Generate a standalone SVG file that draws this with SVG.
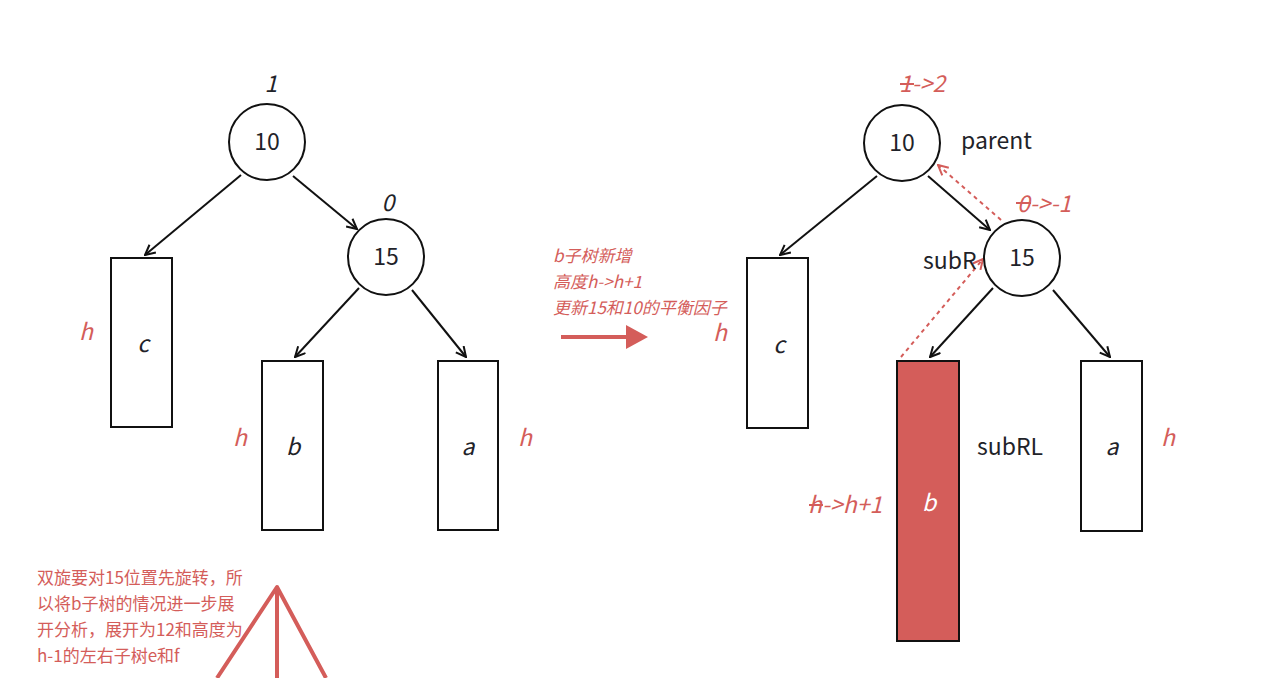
<svg xmlns="http://www.w3.org/2000/svg" width="1270" height="678" viewBox="0 0 1270 678">
<defs>
<style>
.n{fill:#fff;stroke:#111;stroke-width:2}
.e{fill:none;stroke:#111;stroke-width:2}
.d{fill:none;stroke:#d45d5a;stroke-width:2;stroke-dasharray:4 4}
.t{font-family:"Noto Sans CJK SC","Noto Sans",sans-serif;font-size:23px;fill:#1f2329}
.i{font-style:italic}
.r{fill:#d45d5a}
.s{font-family:"Noto Sans CJK SC","Noto Sans",sans-serif;font-size:17px;fill:#d45d5a}
.st{stroke:#d45d5a;stroke-width:2}
</style>
<marker id="ah" viewBox="0 0 12 12" refX="11" refY="6" markerWidth="12" markerHeight="12" markerUnits="userSpaceOnUse" orient="auto">
<path d="M1,1 L11,6 L1,11" fill="none" stroke="#111" stroke-width="2"/>
</marker>
<marker id="ahr" viewBox="0 0 12 12" refX="11" refY="6" markerWidth="12" markerHeight="12" markerUnits="userSpaceOnUse" orient="auto">
<path d="M1,1 L11,6 L1,11" fill="none" stroke="#d45d5a" stroke-width="2"/>
</marker>
</defs>
<rect width="1270" height="678" fill="#fff"/>
<g id="connectors">
<line class="e" x1="241" y1="175" x2="145" y2="255" marker-end="url(#ah)"/>
<line class="e" x1="293" y1="176" x2="357" y2="229" marker-end="url(#ah)"/>
<line class="e" x1="359" y1="288" x2="295" y2="357" marker-end="url(#ah)"/>
<line class="e" x1="412" y1="290" x2="466" y2="357" marker-end="url(#ah)"/>
<line class="e" x1="877" y1="176" x2="780" y2="255" marker-end="url(#ah)"/>
<line class="e" x1="928" y1="176" x2="990" y2="230" marker-end="url(#ah)"/>
<line class="e" x1="993" y1="288" x2="930" y2="357" marker-end="url(#ah)"/>
<line class="e" x1="1053" y1="290" x2="1110" y2="357" marker-end="url(#ah)"/>
<line class="d" x1="1001" y1="220" x2="938" y2="165" marker-end="url(#ahr)"/>
<line class="d" x1="901" y1="357" x2="983" y2="259" marker-end="url(#ahr)"/>
</g>
<g id="L10"><circle class="n" cx="267" cy="142" r="38"/><text class="t" x="267" y="150" text-anchor="middle">10</text><text class="t i" x="271" y="92" text-anchor="middle">1</text></g>
<g id="L15"><circle class="n" cx="386" cy="257" r="38"/><text class="t" x="386" y="265" text-anchor="middle">15</text><text class="t i" x="388" y="211" text-anchor="middle">0</text></g>
<g id="Lc"><rect class="n" x="111" y="258" width="61" height="169"/><text class="t i" x="143" y="352" text-anchor="middle">c</text><text class="t i r" x="86" y="340" text-anchor="middle">h</text></g>
<g id="Lb"><rect class="n" x="262" y="361" width="61" height="169"/><text class="t i" x="293" y="455" text-anchor="middle">b</text><text class="t i r" x="240" y="446" text-anchor="middle">h</text></g>
<g id="La"><rect class="n" x="438" y="361" width="60" height="169"/><text class="t i" x="468" y="455" text-anchor="middle">a</text><text class="t i r" x="525" y="446" text-anchor="middle">h</text></g>
<g id="mid">
<text class="s i" x="553" y="262">b子树新增</text>
<text class="s i" x="553" y="288">高度h-&gt;h+1</text>
<text class="s i" x="553" y="314">更新15和10的平衡因子</text>
<line x1="561" y1="337" x2="628" y2="337" stroke="#d45d5a" stroke-width="4"/>
<path d="M626,325 L648,337 L626,349 Z" fill="#d45d5a"/>
</g>
<g id="R10"><circle class="n" cx="902" cy="143" r="38"/><text class="t" x="902" y="151" text-anchor="middle">10</text>
<text class="t i r" x="899" y="92">1-&gt;2</text><line class="st" x1="900" y1="84" x2="914" y2="84"/>
<text class="t" x="961" y="149">parent</text></g>
<g id="R15"><circle class="n" cx="1022" cy="258" r="38"/><text class="t" x="1022" y="266" text-anchor="middle">15</text>
<text class="t i r" x="1017" y="212">0-&gt;-1</text><line class="st" x1="1016" y1="203" x2="1031" y2="203"/>
<text class="t" x="923" y="269">subR</text></g>
<g id="Rc"><rect class="n" x="747" y="258" width="61" height="170"/><text class="t i" x="779" y="353" text-anchor="middle">c</text><text class="t i r" x="720" y="341" text-anchor="middle">h</text></g>
<g id="Rb"><rect x="897" y="361" width="62" height="280" fill="#d45d5a" stroke="#111" stroke-width="2"/><text class="t i" x="929" y="511" text-anchor="middle" style="fill:#fff">b</text>
<text class="t i r" x="808" y="513">h-&gt;h+1</text><line class="st" x1="809" y1="505" x2="823" y2="505"/>
<text class="t" x="977" y="455">subRL</text></g>
<g id="Ra"><rect class="n" x="1081" y="361" width="61" height="170"/><text class="t i" x="1112" y="455" text-anchor="middle">a</text><text class="t i r" x="1168" y="446" text-anchor="middle">h</text></g>
<g id="note">
<text class="s" x="37" y="584">双旋要对15位置先旋转，所</text>
<text class="s" x="37" y="610">以将b子树的情况进一步展</text>
<text class="s" x="37" y="636">开分析，展开为12和高度为</text>
<text class="s" x="37" y="662">h-1的左右子树e和f</text>
<path d="M217,678 L277,587 L326,678 M277,587 L277,678" fill="none" stroke="#d45d5a" stroke-width="4" stroke-linejoin="round"/>
</g>
</svg>
